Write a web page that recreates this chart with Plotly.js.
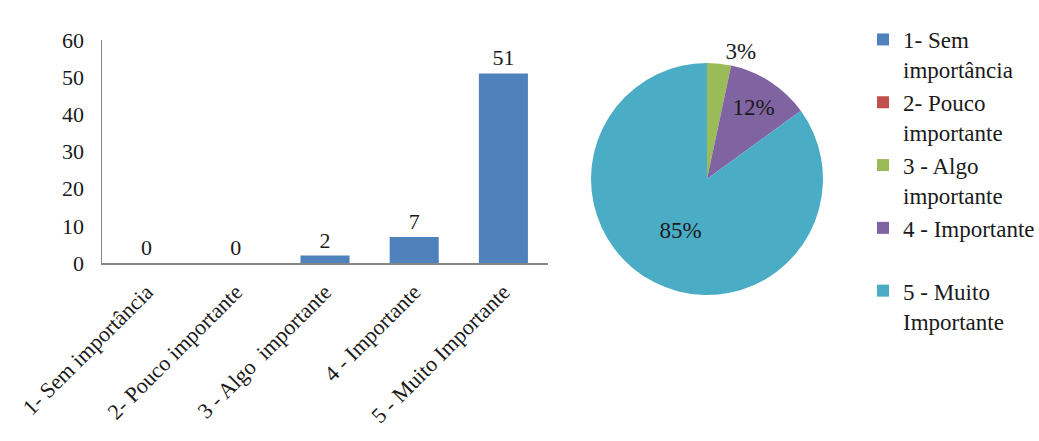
<!DOCTYPE html>
<html><head><meta charset="utf-8">
<script src="https://cdn.plot.ly/plotly-3.0.1.min.js"></script>
<style>html,body{margin:0;padding:0;background:#fff}#chart{width:1039px;height:441px}</style>
</head><body><div id="chart"></div>
<script>
// ---- data ----
const categories = ['1- Sem importância', '2- Pouco importante', '3 - Algo  importante', '4 - Importante', '5 - Muito Importante'];
const counts = [0, 0, 2, 7, 51];
const legendLabels = ['1- Sem<br>importância', '2- Pouco<br>importante', '3 - Algo<br>importante', '4 - Importante<br>\u00a0', '5 - Muito<br>Importante'];
const sliceColors = ['#4F81BD', '#C0504D', '#9BBB59', '#8064A2', '#4BACC6'];
const yTicks = [0, 10, 20, 30, 40, 50, 60];

// ---- layout helpers (pixel -> paper fraction) ----
const W = 1039, H = 441;
const dx = (a, b) => [a / W, b / W];
const dy = (top, bottom) => [(H - bottom) / H, (H - top) / H];

const serif = 'Liberation Serif';
const ink = '#1a1a1a';
const axisGrey = '#868686';
const f = (size) => ({family: serif, size: size, color: ink});

const barTrace = {
  type: 'bar',
  x: categories,
  y: counts,
  text: counts.map(String),
  textposition: 'outside',
  texttemplate: '%{text}',
  textfont: f(22),
  outsidetextfont: f(22),
  cliponaxis: false,
  marker: {color: '#4F81BD', line: {width: 0}},
  showlegend: false,
  hoverinfo: 'x+y',
  xaxis: 'x', yaxis: 'y'
};

const total = counts.reduce((a, b) => a + b, 0);
const pieTrace = {
  type: 'pie',
  labels: legendLabels,
  values: counts,
  sort: false,
  direction: 'clockwise',
  rotation: 0,
  marker: {colors: sliceColors, line: {width: 0}},
  texttemplate: counts.map(v => v > 0 ? '%{percent:.0%}' : ''),
  textposition: counts.map(v => v / total < 0.06 ? 'outside' : 'inside'),
  insidetextorientation: 'horizontal',
  textfont: f(23),
  outsidetextfont: f(23),
  insidetextfont: f(23),
  domain: {x: dx(591, 823), y: dy(63, 295)},
  hoverinfo: 'label+value+percent'
};

const layout = {
  width: W, height: H,
  margin: {l: 0, r: 0, t: 0, b: 0, autoexpand: false},
  paper_bgcolor: '#ffffff',
  plot_bgcolor: '#ffffff',
  font: f(22),
  bargap: 0.45,
  xaxis: {
    domain: dx(102, 548),
    type: 'category',
    showline: true, linecolor: axisGrey, linewidth: 1.5,
    ticks: '', showgrid: false, zeroline: false,
    tickangle: -45,
    tickfont: f(22),
    automargin: false,
    ticklabelstandoff: 6
  },
  yaxis: {
    domain: dy(40, 263),
    range: [0, 60],
    tickvals: yTicks,
    ticktext: yTicks.map(String),
    showline: true, linecolor: axisGrey, linewidth: 1.5,
    ticks: '', showgrid: false, zeroline: false,
    tickfont: f(22),
    automargin: false,
    ticklabelstandoff: 12
  },
  showlegend: true,
  legend: {
    x: 863 / W, xanchor: 'left',
    y: 1 - 18 / H, yanchor: 'top',
    valign: 'top',
    font: f(23),
    bgcolor: 'rgba(0,0,0,0)',
    borderwidth: 0,
    itemwidth: 30,
    traceorder: 'normal'
  }
};

Plotly.newPlot('chart', [barTrace, pieTrace], layout, {displayModeBar: false, staticPlot: true});
</script>
</body></html>
